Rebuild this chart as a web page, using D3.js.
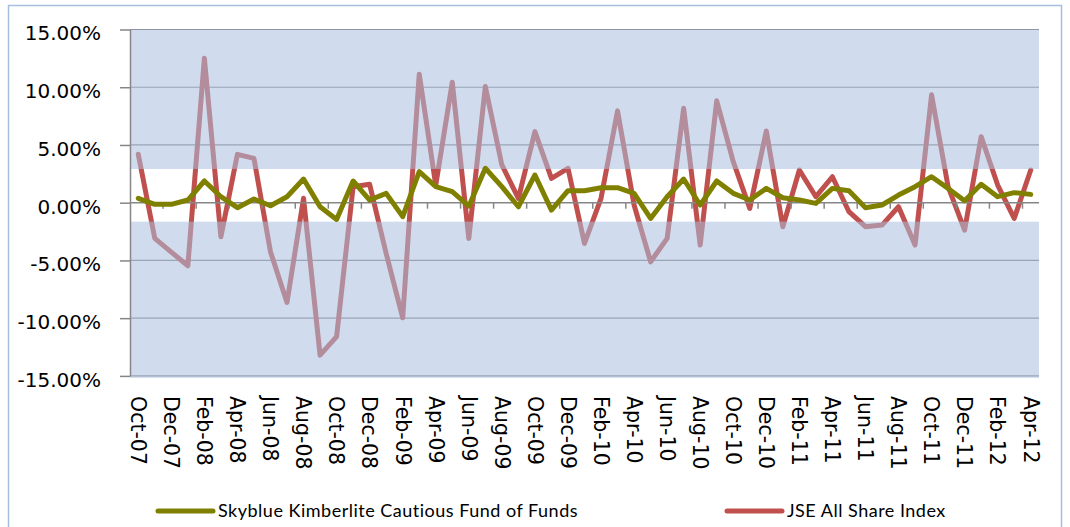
<!DOCTYPE html>
<html>
<head>
<meta charset="utf-8">
<script src="https://cdn.jsdelivr.net/npm/d3@7"></script>
<style>
body { margin: 0; background: #fff; }
svg { display: block; }
</style>
</head>
<body>
<script>
// monthly returns, %
var months = ["Oct-07","Nov-07","Dec-07",
  "Jan-08","Feb-08","Mar-08","Apr-08","May-08","Jun-08","Jul-08","Aug-08","Sep-08","Oct-08","Nov-08","Dec-08",
  "Jan-09","Feb-09","Mar-09","Apr-09","May-09","Jun-09","Jul-09","Aug-09","Sep-09","Oct-09","Nov-09","Dec-09",
  "Jan-10","Feb-10","Mar-10","Apr-10","May-10","Jun-10","Jul-10","Aug-10","Sep-10","Oct-10","Nov-10","Dec-10",
  "Jan-11","Feb-11","Mar-11","Apr-11","May-11","Jun-11","Jul-11","Aug-11","Sep-11","Oct-11","Nov-11","Dec-11",
  "Jan-12","Feb-12","Mar-12","Apr-12"];

var skyblue = [0.38,-0.14,-0.14,0.23,1.88,0.52,-0.43,0.32,-0.26,0.52,2.05,-0.35,-1.45,1.88,0.23,
  0.81,-1.21,2.69,1.39,0.95,-0.3,2.98,1.39,-0.35,2.4,-0.64,1.04,
  1.04,1.3,1.3,0.81,-1.36,0.52,2.05,-0.2,1.88,0.81,0.23,1.24,
  0.43,0.23,-0.06,1.24,1.04,-0.43,-0.2,0.66,1.39,2.25,1.24,0.17,
  1.59,0.52,0.87,0.72];

var jse = [4.19,-3.09,-4.28,-5.46,12.51,-2.95,4.19,3.84,-4.25,-8.64,0.38,-13.2,-11.6,1.39,1.59,
  -4.4,-9.97,11.13,1.53,10.43,-3.09,10.06,3.27,0.38,6.16,2.11,2.98,
  -3.53,0.38,7.95,-0.2,-5.12,-3.09,8.18,-3.67,8.82,3.55,-0.49,6.21,
  -2.08,2.83,0.52,2.25,-0.78,-2.08,-1.94,-0.35,-3.67,9.34,1.39,-2.37,
  5.72,1.53,-1.36,2.83];

var yTicks = [15, 10, 5, 0, -5, -10, -15];
var bandHigh = 2.92, bandLow = -1.64;   // white band between these
var seriesNames = ["Skyblue Kimberlite Cautious Fund of Funds", "JSE All Share Index"];
var seriesColors = ["#808000", "#c0504d"];

var svg = d3.select("body").append("svg")
  .attr("width", 1070)
  .attr("height", 527);

// outer chart border
svg.append("rect")
  .attr("x", 8.5).attr("y", 5.5)
  .attr("width", 1053).attr("height", 540)
  .attr("fill", "#fff")
  .attr("stroke", "#a6bfdf")
  .attr("stroke-width", 1.5);

var plot = {left: 130, right: 1039, top: 29.5, bottom: 375.9};

var xScale = d3.scaleBand().domain(months).range([plot.left, plot.right]);
var yScale = d3.scaleLinear().domain([-15, 15]).range([plot.bottom, plot.top]);
var bw = xScale.bandwidth();

// gridlines
svg.append("g").selectAll("line")
  .data(yTicks.filter(function(d) { return d != 0; }))
  .enter().append("line")
  .attr("x1", plot.left).attr("x2", plot.right)
  .attr("y1", function(d) { return yScale(d); })
  .attr("y2", function(d) { return yScale(d); })
  .attr("stroke", "#868686")
  .attr("stroke-width", 1.2);

var line = d3.line()
  .x(function(d, i) { return xScale(months[i]) + bw / 2; })
  .y(function(d) { return yScale(d); });

// JSE sits under the shaded bands
svg.append("path")
  .datum(jse)
  .attr("d", line)
  .attr("fill", "none")
  .attr("stroke", seriesColors[1])
  .attr("stroke-width", 5)
  .attr("stroke-linejoin", "round")
  .attr("stroke-linecap", "round");

// shaded bands
svg.append("rect")
  .attr("x", plot.left).attr("width", plot.right - plot.left)
  .attr("y", yScale(15)).attr("height", yScale(bandHigh) - yScale(15))
  .attr("fill", "#aabfe0").attr("fill-opacity", 0.55);
svg.append("rect")
  .attr("x", plot.left).attr("width", plot.right - plot.left)
  .attr("y", yScale(bandLow)).attr("height", yScale(-15) + 2 - yScale(bandLow))
  .attr("fill", "#aabfe0").attr("fill-opacity", 0.55);

// x axis at zero
svg.append("line")
  .attr("x1", plot.left).attr("x2", plot.right)
  .attr("y1", yScale(0)).attr("y2", yScale(0))
  .attr("stroke", "#868686").attr("stroke-width", 1.5);

svg.append("g").selectAll("line")
  .data(months.filter(function(d, i) { return i > 0 && i % 2 == 0; }))
  .enter().append("line")
  .attr("x1", function(d) { return xScale(d); })
  .attr("x2", function(d) { return xScale(d); })
  .attr("y1", yScale(0)).attr("y2", yScale(0) + 6)
  .attr("stroke", "#868686").attr("stroke-width", 1.5);

// y axis
var yAxis = svg.append("g")
  .attr("transform", "translate(" + plot.left + ",0)")
  .call(d3.axisLeft(yScale)
    .tickValues(yTicks)
    .tickSize(10)
    .tickSizeOuter(0)
    .tickPadding(19)
    .tickFormat(function(d) { return d.toFixed(2) + "%"; }));

yAxis.selectAll("path, line").attr("stroke", "#868686").attr("stroke-width", 1.5);
yAxis.selectAll("text")
  .attr("dy", "0.52em")
  .attr("fill", "#000")
  .style("font-family", "DejaVu Sans")
  .style("font-size", "20px");

// month labels, every second month
svg.append("g").selectAll("text")
  .data(months.filter(function(d, i) { return i % 2 == 0; }))
  .enter().append("text")
  .attr("transform", function(d) {
    return "translate(" + (xScale(d) + bw / 2) + ",396) rotate(90)";
  })
  .attr("dy", "0.35em")
  .attr("text-anchor", "start")
  .style("font-family", "DejaVu Sans")
  .style("font-size", "20.5px")
  .text(function(d) { return d; });

// Skyblue on top
svg.append("path")
  .datum(skyblue)
  .attr("d", line)
  .attr("fill", "none")
  .attr("stroke", seriesColors[0])
  .attr("stroke-width", 5)
  .attr("stroke-linejoin", "round")
  .attr("stroke-linecap", "round");

// legend
var legendX = [158, 727];
var legend = svg.append("g").selectAll("g")
  .data(seriesNames)
  .enter().append("g")
  .attr("transform", function(d, i) { return "translate(" + legendX[i] + ",511)"; });

legend.append("line")
  .attr("x1", 0).attr("x2", 55)
  .attr("stroke", function(d, i) { return seriesColors[i]; })
  .attr("stroke-width", 5)
  .attr("stroke-linecap", "round");

legend.append("text")
  .attr("x", 60)
  .attr("dy", "0.35em")
  .style("font-family", "Lato")
  .style("font-size", "18px")
  .style("letter-spacing", "0.5px")
  .text(function(d) { return d; });
</script>
</body>
</html>
